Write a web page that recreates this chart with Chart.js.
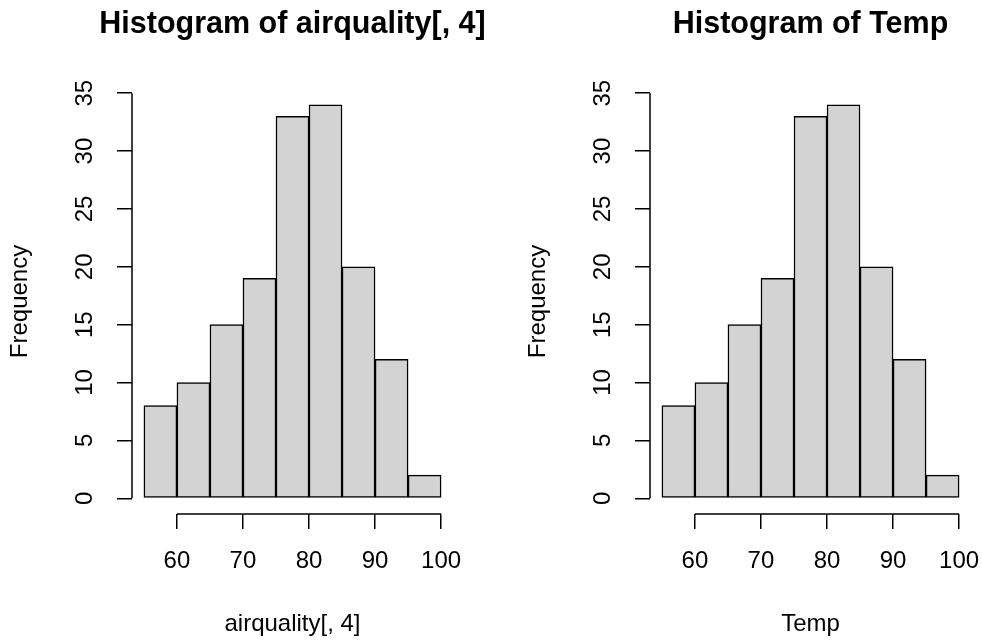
<!DOCTYPE html>
<html>
<head>
<meta charset="utf-8">
<script src="https://cdn.jsdelivr.net/npm/chart.js@4"></script>
<style>
  html, body { margin: 0; padding: 0; background: #fff; }
  #wrap { position: relative; width: 982px; height: 640px; overflow: hidden; }
  canvas { position: absolute; top: 0; }
</style>
</head>
<body>
<div id="wrap">
  <canvas id="chart-izq" width="585" height="640" style="left:0px"></canvas>
  <canvas id="chart-der" width="585" height="640" style="left:518px"></canvas>
</div>
<script>
// datos del histograma (Temp de airquality)
const cortes = [55, 60, 65, 70, 75, 80, 85, 90, 95, 100];
const frecuencias = [8, 10, 15, 19, 33, 34, 20, 12, 2];
const ticksX = [60, 70, 80, 90, 100];
const ticksY = [0, 5, 10, 15, 20, 25, 30, 35];

const fuente = "'Liberation Sans', Arial, sans-serif";
Chart.defaults.color = '#000';
Chart.defaults.font.family = fuente;

// dibuja las lineas de eje al estilo R (solo entre el primer y ultimo tick)
const ejesR = {
    id: 'ejesR',
    afterDraw(chart) {
        const ctx = chart.ctx;
        const x = chart.scales.x, y = chart.scales.y;
        ctx.save();
        ctx.strokeStyle = '#000';
        ctx.lineWidth = 1.5;
        ctx.beginPath();
        ctx.moveTo(x.getPixelForValue(ticksX[0]), chart.chartArea.bottom);
        ctx.lineTo(x.getPixelForValue(ticksX[ticksX.length - 1]), chart.chartArea.bottom);
        ctx.moveTo(chart.chartArea.left, y.getPixelForValue(ticksY[0]));
        ctx.lineTo(chart.chartArea.left, y.getPixelForValue(ticksY[ticksY.length - 1]));
        ctx.stroke();
        ctx.restore();
    }
};

function crearHistograma(idCanvas, titulo, etiquetaX) {
    const puntos = frecuencias.map((f, i) => ({ x: (cortes[i] + cortes[i + 1]) / 2, y: f }));
    const ctx = document.getElementById(idCanvas).getContext('2d');
    return new Chart(ctx, {
        type: 'bar',
        data: {
            datasets: [{
                data: puntos,
                backgroundColor: '#d3d3d3',
                borderColor: '#000',
                borderWidth: 1.5,
                borderSkipped: false,
                barPercentage: 1,
                categoryPercentage: 1
            }]
        },
        options: {
            responsive: false,
            animation: false,
            devicePixelRatio: 1,
            layout: { padding: 0 },
            plugins: {
                legend: { display: false },
                tooltip: { enabled: false },
                title: {
                    display: true,
                    text: titulo,
                    color: '#000',
                    font: { family: fuente, size: 30.5, weight: 'bold', lineHeight: 1.2 },
                    padding: { top: 6, bottom: 46.4 }
                }
            },
            scales: {
                x: {
                    type: 'linear',
                    offset: false,
                    min: 53.2,
                    max: 101.8,
                    afterBuildTicks: s => { s.ticks = ticksX.map(v => ({ value: v })); },
                    afterFit: s => { s.height = 126; },
                    border: { display: false },
                    grid: { offset: false, drawOnChartArea: false, drawTicks: true, tickLength: 15, color: '#000', lineWidth: 1.5 },
                    ticks: { font: { size: 24 }, padding: 18, maxRotation: 0, autoSkip: false },
                    title: {
                        display: true,
                        text: etiquetaX,
                        font: { size: 24, lineHeight: 1.2 },
                        padding: { top: 0, bottom: 1 }
                    }
                },
                y: {
                    min: -1.36,
                    max: 35.36,
                    afterBuildTicks: s => { s.ticks = ticksY.map(v => ({ value: v })); },
                    afterFit: s => { s.width = 132; },
                    border: { display: false },
                    grid: { drawOnChartArea: false, drawTicks: true, tickLength: 15, color: '#000', lineWidth: 1.5 },
                    ticks: { font: { size: 24 }, padding: 18, minRotation: 90, maxRotation: 90, crossAlign: 'center', autoSkip: false },
                    title: {
                        display: true,
                        text: 'Frequency',
                        font: { size: 24, lineHeight: 1.2 },
                        padding: { top: 6, bottom: 0 }
                    }
                },
                // margen derecho vacio, para que el titulo quede centrado sobre el grafico
                margen: {
                    type: 'linear',
                    position: 'right',
                    afterFit: s => { s.width = 132; },
                    border: { display: false },
                    grid: { display: false },
                    ticks: { display: false }
                }
            }
        },
        plugins: [ejesR]
    });
}

crearHistograma('chart-izq', 'Histogram of airquality[, 4]', 'airquality[, 4]');
crearHistograma('chart-der', 'Histogram of Temp', 'Temp');
</script>
</body>
</html>
